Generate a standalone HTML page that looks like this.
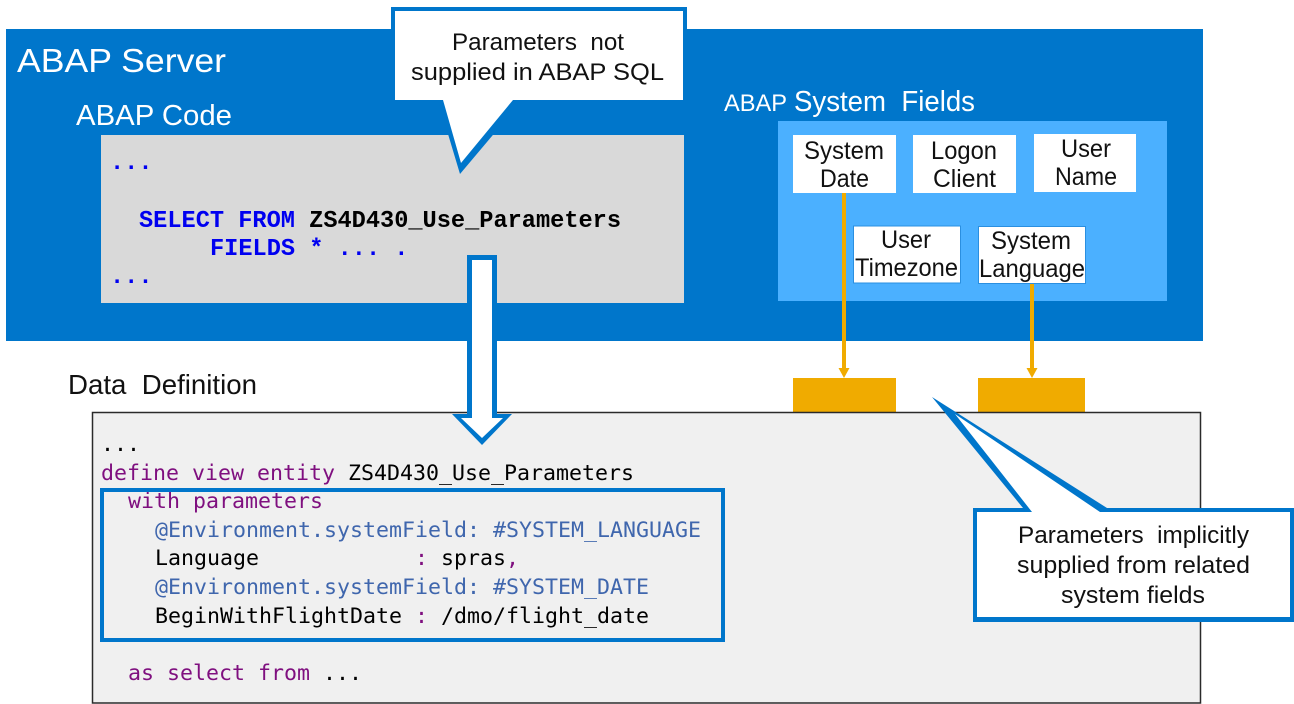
<!DOCTYPE html>
<html>
<head>
<meta charset="utf-8">
<style>
html,body{margin:0;padding:0;background:#fff;width:1294px;height:704px;overflow:hidden}
svg{display:block}
text{font-family:"Liberation Sans",sans-serif;white-space:pre}
.m{font-family:"DejaVu Sans Mono",monospace;font-size:21.6px}
.c{font-family:"Liberation Mono",monospace;font-size:23.63px;font-weight:bold;fill:#0000f0}
.l{font-size:25px;fill:#111}
.t{font-size:24.500px;fill:#111}
.w{fill:#fff}
.p{fill:#7f0f7f}
.a{fill:#3f66ad}
.k{fill:#000}
</style>
</head>
<body>
<svg width="1294" height="704" viewBox="0 0 1294 704" xmlns="http://www.w3.org/2000/svg">
<rect x="6" y="29" width="1197" height="312" fill="#0076cb"/>
<rect x="101" y="135" width="583" height="168" fill="#d9d9d9"/>
<text class="w" x="17" y="72" font-size="33.500" textLength="209" lengthAdjust="spacingAndGlyphs">ABAP Server</text>
<text class="w" x="76" y="125" font-size="29" textLength="156" lengthAdjust="spacingAndGlyphs">ABAP Code</text>
<text class="c" x="110" y="169">...</text>
<text class="c" x="139" y="227">SELECT FROM <tspan fill="#000">ZS4D430_Use_Parameters</tspan></text>
<text class="c" x="210" y="255">FIELDS * ... .</text>
<text class="c" x="110" y="283">...</text>

<text class="w" x="724" y="111" font-size="24" textLength="63" lengthAdjust="spacingAndGlyphs">ABAP</text>
<text class="w" x="794" y="111" font-size="29" textLength="181" lengthAdjust="spacingAndGlyphs">System  Fields</text>
<rect x="778" y="121" width="389" height="180" fill="#4bb0ff"/>
<rect x="793" y="135" width="103" height="58" fill="#fff"/>
<rect x="913" y="135" width="103" height="58" fill="#fff"/>
<rect x="1034" y="134" width="102" height="58" fill="#fff"/>
<rect x="853.500" y="226" width="107" height="57" fill="#fff" stroke="#2a8fe0"/>
<rect x="978.500" y="226.500" width="107" height="57" fill="#fff" stroke="#2a8fe0"/>
<text class="l" x="804" y="159" textLength="80" lengthAdjust="spacingAndGlyphs">System</text>
<text class="l" x="820" y="187" textLength="49" lengthAdjust="spacingAndGlyphs">Date</text>
<text class="l" x="931" y="159" textLength="66" lengthAdjust="spacingAndGlyphs">Logon</text>
<text class="l" x="933" y="187" textLength="63" lengthAdjust="spacingAndGlyphs">Client</text>
<text class="l" x="1061" y="157" textLength="50" lengthAdjust="spacingAndGlyphs">User</text>
<text class="l" x="1055" y="185" textLength="62" lengthAdjust="spacingAndGlyphs">Name</text>
<text class="l" x="881" y="248" textLength="50" lengthAdjust="spacingAndGlyphs">User</text>
<text class="l" x="855" y="276" textLength="103" lengthAdjust="spacingAndGlyphs">Timezone</text>
<text class="l" x="991" y="249" textLength="80" lengthAdjust="spacingAndGlyphs">System</text>
<text class="l" x="979" y="277" textLength="106" lengthAdjust="spacingAndGlyphs">Language</text>

<rect x="793" y="378" width="103" height="35" fill="#f0ab00"/>
<rect x="978" y="378" width="107" height="35" fill="#f0ab00"/>
<rect x="842" y="193" width="4" height="176" fill="#f0ab00"/>
<rect x="1030" y="284" width="4" height="85" fill="#f0ab00"/>
<polygon points="838.500,368 849.500,368 844,378" fill="#f0ab00"/>
<polygon points="1026.500,368 1037.500,368 1032,378" fill="#f0ab00"/>

<text x="68" y="394" font-size="28" fill="#111" textLength="189" lengthAdjust="spacingAndGlyphs">Data  Definition</text>
<rect x="92.500" y="412.500" width="1108" height="290.500" fill="#f0f0f0" stroke="#2a2a2a" stroke-width="1.500"/>

<text class="m k" x="101" y="451">...</text>
<text class="m p" x="101" y="480">define view entity <tspan class="k">ZS4D430_Use_Parameters</tspan></text>
<text class="m p" x="128" y="508">with parameters</text>
<text class="m a" x="155" y="537">@Environment.systemField: #SYSTEM_LANGUAGE</text>
<text class="m k" x="155" y="565">Language            <tspan class="p">:</tspan> spras<tspan class="p">,</tspan></text>
<text class="m a" x="155" y="594">@Environment.systemField: #SYSTEM_DATE</text>
<text class="m k" x="155" y="623">BeginWithFlightDate <tspan class="p">:</tspan> /dmo/flight_date</text>
<text class="m p" x="128" y="680">as select from <tspan class="k">...</tspan></text>
<rect x="102" y="490" width="621" height="150" fill="none" stroke="#0076cb" stroke-width="4"/>

<polygon points="391,7 687,7 687,104 519,104 460,174 439,104 391,104" fill="#0076cb"/>
<polygon points="395,11 683,11 683,100 513,100 461,163 443,100 395,100" fill="#fff"/>
<text class="t" x="452" y="50" textLength="172" lengthAdjust="spacingAndGlyphs">Parameters  not</text>
<text class="t" x="411" y="80" textLength="253" lengthAdjust="spacingAndGlyphs">supplied in ABAP SQL</text>

<polygon points="467,255 497,255 497,414 512,414 482,445 452,414 467,414" fill="#0076cb"/>
<polygon points="472,260 492,260 492,418 503,418 482,438 461,418 472,418" fill="#fff"/>

<polygon points="932,397 1107,508 1294,508 1294,622 973,622 973,508 1023,508" fill="#0076cb"/>
<polygon points="955,414 1100,512 1290,512 1290,617 977,617 977,512 1032,512" fill="#fff"/>
<text class="t" x="1018" y="543" textLength="231" lengthAdjust="spacingAndGlyphs">Parameters  implicitly</text>
<text class="t" x="1017" y="573" textLength="233" lengthAdjust="spacingAndGlyphs">supplied from related</text>
<text class="t" x="1061" y="603" textLength="144" lengthAdjust="spacingAndGlyphs">system fields</text>
</svg>
</body>
</html>
